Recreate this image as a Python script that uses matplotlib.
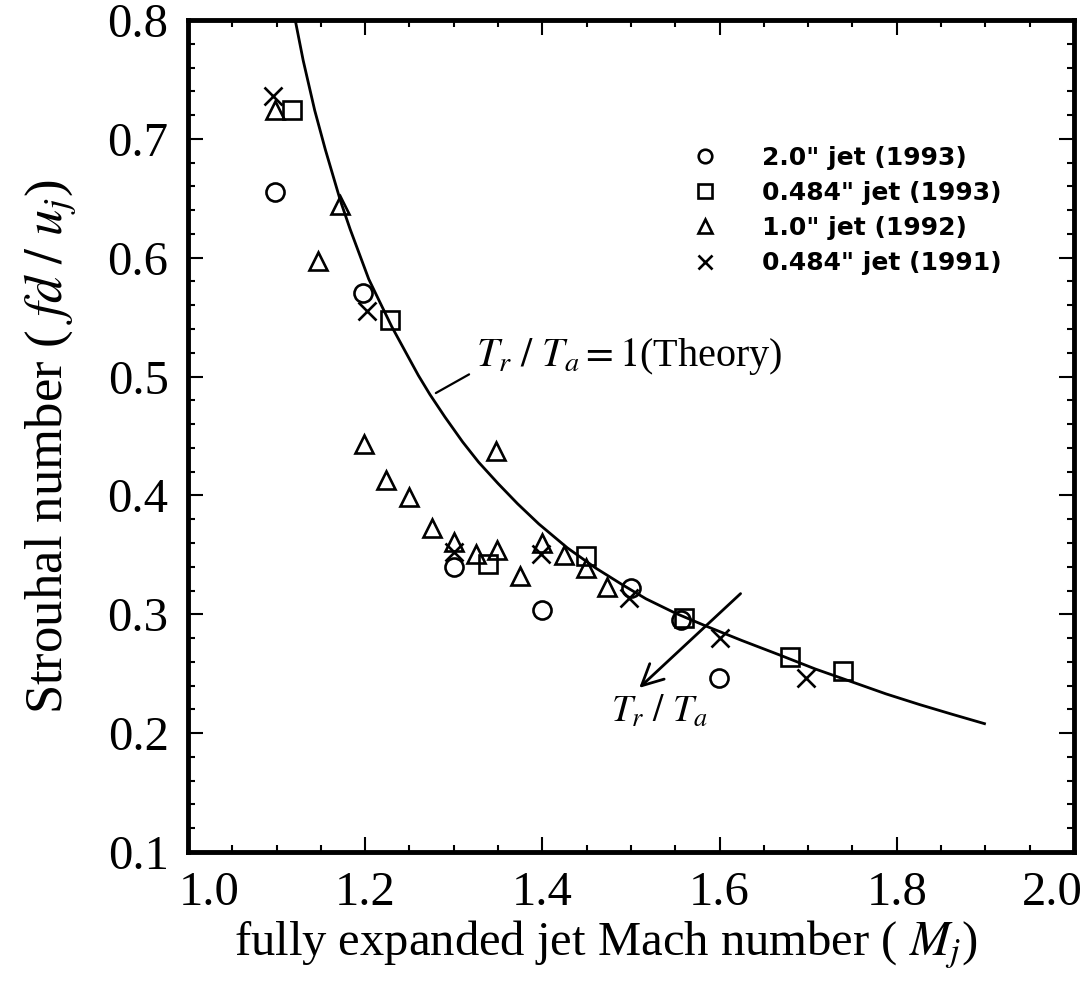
import numpy as np
import matplotlib
matplotlib.use("Agg")
import matplotlib.pyplot as plt
from matplotlib.transforms import ScaledTranslation

plt.rcParams['font.family'] = ['Liberation Serif', 'DejaVu Serif']
plt.rcParams['mathtext.fontset'] = 'stix'

# data
circ_x = [1.098, 1.198, 1.300, 1.400, 1.500, 1.556, 1.599]
circ_y = [0.655, 0.570, 0.340, 0.304, 0.322, 0.295, 0.246]

sq_x = [1.117, 1.228, 1.339, 1.449, 1.560, 1.680, 1.739]
sq_y = [0.724, 0.548, 0.342, 0.349, 0.297, 0.264, 0.252]

tri_x = [1.098, 1.172, 1.147, 1.199, 1.348, 1.223, 1.249, 1.275,
         1.300, 1.325, 1.349, 1.375, 1.400, 1.424, 1.449, 1.473]
tri_y = [0.724, 0.644, 0.597, 0.443, 0.437, 0.413, 0.399, 0.373,
         0.361, 0.351, 0.354, 0.332, 0.360, 0.350, 0.339, 0.323]

cross_x = [1.096, 1.202, 1.300, 1.398, 1.498, 1.600, 1.698]
cross_y = [0.736, 0.555, 0.352, 0.351, 0.314, 0.280, 0.246]

# theory curve (T_r/T_a = 1)
theory_x = [1.121, 1.130, 1.143, 1.155, 1.172, 1.183, 1.194, 1.204, 1.215,
            1.230, 1.249, 1.260, 1.273, 1.290, 1.310, 1.328, 1.350, 1.372,
            1.396, 1.428, 1.460, 1.490, 1.517, 1.550, 1.585, 1.625, 1.667,
            1.708, 1.750, 1.788, 1.826, 1.862, 1.899]
theory_y = [0.800, 0.766, 0.724, 0.691, 0.648, 0.624, 0.602, 0.582, 0.565,
            0.542, 0.516, 0.501, 0.485, 0.466, 0.445, 0.428, 0.410, 0.393,
            0.376, 0.356, 0.339, 0.325, 0.313, 0.301, 0.290, 0.278, 0.266,
            0.254, 0.243, 0.233, 0.224, 0.216, 0.208]

legend_labels = ['2.0" jet (1993)', '0.484" jet (1993)',
                 '1.0" jet (1992)', '0.484" jet (1991)']

fig = plt.figure(figsize=(10.88, 9.85), dpi=100)
ax = fig.add_axes([0.1728, 0.135, 0.8143, 0.8447])

ms = 13
mew = 1.9
h1, = ax.plot(circ_x, circ_y, 'o', ms=ms, mfc='none', mec='black', mew=mew)
h2, = ax.plot(sq_x, sq_y, 's', ms=ms, mfc='none', mec='black', mew=mew)
h3, = ax.plot(tri_x, tri_y, '^', ms=ms, mfc='none', mec='black', mew=mew)
h4, = ax.plot(cross_x, cross_y, 'x', ms=ms, mec='black', mew=mew)

ax.plot(theory_x, theory_y, color='black', lw=2.0)

# annotations
ax.annotate('', xy=(1.320, 0.503), xytext=(1.277, 0.485),
            arrowprops=dict(arrowstyle='-', color='black', lw=1.6))
ax.text(1.325, 0.517, r'$T_r\ /\ T_a = 1$(Theory)', fontsize=29,
        ha='left', va='center')
ax.annotate('', xy=(1.507, 0.2365), xytext=(1.626, 0.319),
            arrowprops=dict(arrowstyle='->', color='black', lw=2.0,
                            mutation_scale=38))
ax.text(1.532, 0.218, r'$T_r\ /\ T_a$', fontsize=27, ha='center', va='center')

leg = ax.legend([h1, h2, h3, h4], legend_labels, loc='upper left',
                bbox_to_anchor=(0.555, 0.864), frameon=False,
                handlelength=1.0, handletextpad=1.78, labelspacing=0.45,
                markerscale=0.75, borderpad=0,
                prop={'family': 'DejaVu Sans', 'weight': 'bold', 'size': 18})

ax.set_xlim(1.0, 2.0)
ax.set_ylim(0.1, 0.8)
ax.set_xticks(np.arange(1.0, 2.01, 0.2))
ax.set_yticks(np.arange(0.1, 0.81, 0.1))
ax.set_xticks(np.arange(1.0, 2.001, 0.05), minor=True)
ax.set_yticks(np.arange(0.1, 0.801, 0.02), minor=True)
ax.set_xticklabels(['1.0', '1.2', '1.4', '1.6', '1.8', '2.0'])
ax.set_yticklabels(['0.1', '0.2', '0.3', '0.4', '0.5', '0.6', '0.7', '0.8'])

ax.tick_params(which='both', direction='in', top=True, right=True,
               labelsize=35, width=1.5)
ax.tick_params(which='major', length=11, pad=14)
ax.tick_params(which='minor', length=5)
for sp in ax.spines.values():
    sp.set_linewidth(3.5)

# end labels sit inside the axis ends in the original
xt = ax.get_xticklabels()
xt[0].set_transform(xt[0].get_transform() + ScaledTranslation(0.21, 0, fig.dpi_scale_trans))
xt[-1].set_transform(xt[-1].get_transform() + ScaledTranslation(-0.22, 0, fig.dpi_scale_trans))

ax.set_xlabel(r'fully expanded jet Mach number ( $M_j$)', fontsize=35)
ax.xaxis.set_label_coords(0.472, -0.080)
ax.set_ylabel(r'Strouhal number ( $fd\ /\ u_j$)', fontsize=38)
ax.yaxis.set_label_coords(-0.124, 0.487)

fig.savefig('out.png', dpi=100)
